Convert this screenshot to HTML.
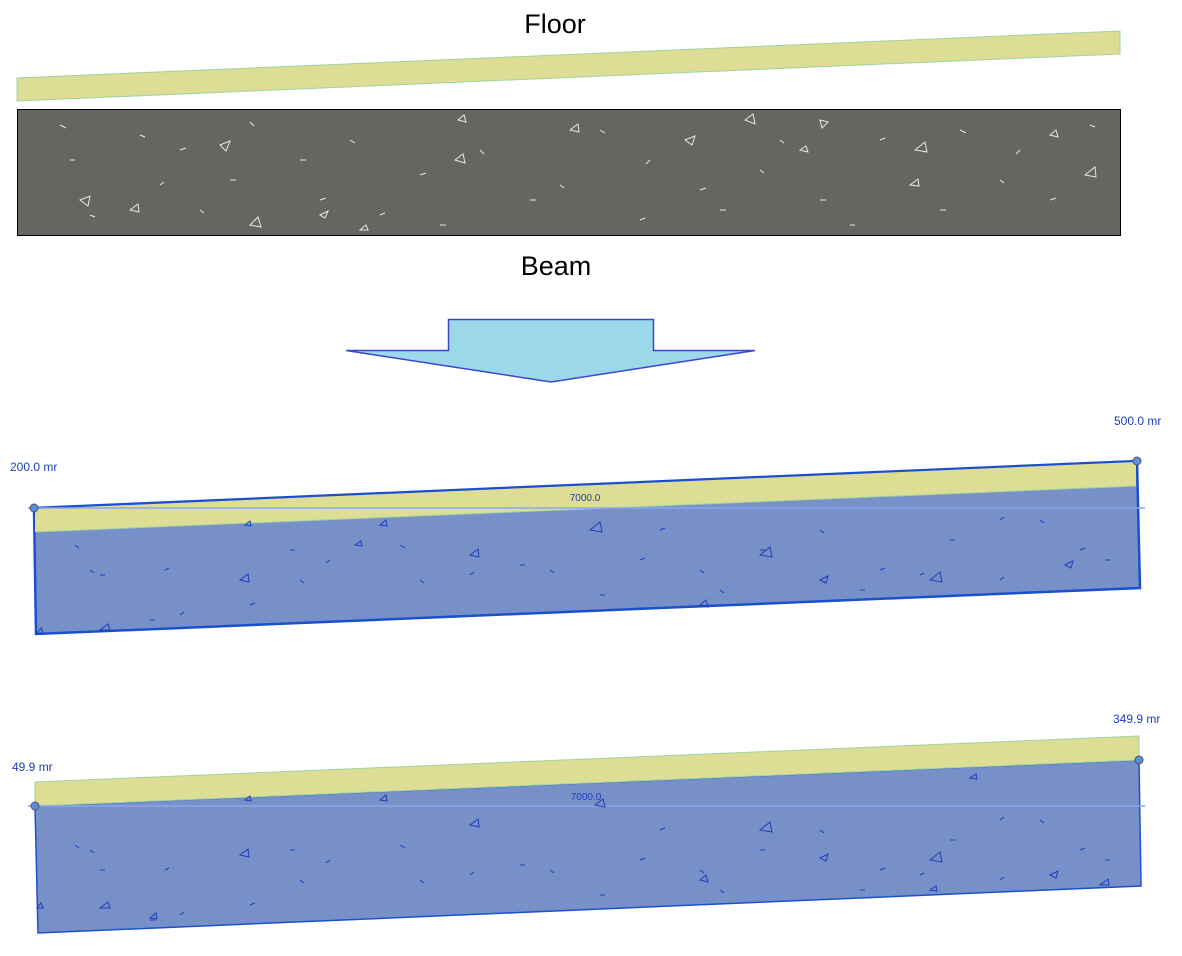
<!DOCTYPE html>
<html><head><meta charset="utf-8"><style>
html,body{margin:0;padding:0;background:#fff;}
svg{display:block;}
</style></head><body>
<svg width="1182" height="956" viewBox="0 0 1182 956" xmlns="http://www.w3.org/2000/svg" font-family="Liberation Sans, sans-serif">
<rect width="1182" height="956" fill="#fff"/>
<text x="555" y="33" font-size="27" text-anchor="middle" fill="#000">Floor</text>
<polygon points="17,78 1120,31 1120,54 17,101" fill="#dedd96" stroke="#9fd49f" stroke-width="1"/>
<rect x="17.5" y="109.5" width="1103" height="126" fill="#646660" stroke="#000" stroke-width="1"/>
<g stroke="#e8e8e8" stroke-width="1" fill="none">
<path d="M60 125l6 3M140 135l5 2M180 150l6-2M250 122l4 4M300 160l6 0M350 140l5 3M420 175l6-2M480 150l4 4M530 200l6 0M600 130l5 3M650 160l-4 4M700 190l6-2M760 170l4 3M820 200l6 0M880 140l5-2M940 210l6 0M1000 180l4 3M1050 200l6-2M90 215l5 2M160 185l4-3M230 180l6 0M380 215l5-2M440 225l6 0M560 185l4 3M640 220l5-2M720 210l6 0M780 140l4 3M850 225l5 0M960 130l6 3M1020 150l-4 4M1090 125l5 2M320 200l6-2M70 160l5 0M200 210l4 3"/>
<path d="M220 145l10-4-4 10zM455 160l8-6 2 9zM570 130l8-6 1 8zM685 140l10-4-3 9zM745 120l8-6 2 10zM820 120l8 2-6 6zM915 150l10-8 2 10zM1085 175l10-8 1 10zM80 200l10-4-2 10zM130 210l8-6 1 8zM250 225l8-8 3 10zM320 215l8-4-3 7zM458 120l6-5 2 7zM1050 135l6-5 2 7zM800 150l6-4 2 6zM910 185l8-6 1 7zM360 230l6-5 2 5z"/>
</g>
<text x="556" y="275" font-size="27" text-anchor="middle" fill="#000">Beam</text>
<polygon points="448.5,319.5 653.5,319.5 653.5,350.5 755,350.5 551,382 346,350.5 448.5,350.5" fill="#9bd9ea" stroke="#3a48c8" stroke-width="1.5"/>

<polygon points="34,508 1137,461 1140,588 36,634" fill="#7890c8" stroke="#1a50d0" stroke-width="2.5"/>
<polygon points="35,509 1136,462 1136,486 35,532" fill="#dedd96"/>
<line x1="35" y1="532" x2="1136" y2="486" stroke="#9fd49f" stroke-width="1"/>
<line x1="28" y1="508" x2="1145" y2="508" stroke="#8aa6f0" stroke-width="1.5"/>
<circle cx="34" cy="508" r="4" fill="#5b8ee0" stroke="#555" stroke-width="1"/>
<circle cx="1137" cy="461" r="4" fill="#5b8ee0" stroke="#555" stroke-width="1"/>
<text x="10" y="471" font-size="12" fill="#1a3fb8">200.0 mr</text>
<text x="1114" y="425" font-size="12" fill="#1a3fb8">500.0 mr</text>
<text x="585" y="501" font-size="10" text-anchor="middle" fill="#1a3fb8">7000.0</text>
<g stroke="#1a3fb8" stroke-width="1" fill="none">
<path d="M75 545l4 3M90 570l4 3M100 575l5 0M165 570l4-2M290 550l5 0M330 560l-4 3M400 545l5 3M470 575l4-3M520 565l5 0M550 570l4 3M640 560l5-2M700 570l4 3M760 550l5 0M820 530l4 3M880 570l5-2M920 575l4-2M950 540l5 0M1000 520l4-3M1080 550l5-2M150 620l5 0M180 615l4-3M250 605l5-2M420 580l4 3M600 595l5 0M720 590l4 3M860 590l5 0M1000 580l4-3M1040 520l4 3M1105 560l5 0M300 580l4 3M660 530l5-2"/>
<path d="M240 580l8-6 1 8zM470 555l8-6 1 8zM590 530l10-8 2 10zM760 555l10-8 2 10zM700 605l6-5 2 7zM820 580l8-4-2 7zM930 580l10-8 2 10zM1065 565l8-4-2 7zM380 525l6-5 1 6zM245 525l5-4 1 5zM100 630l8-6 2 6zM37 633l4-5 2 5zM355 545l6-4 1 5z"/>
</g>

<polygon points="35,806 1139,760 1141,886 38,933" fill="#7890c8" stroke="#1a50d0" stroke-width="1.5"/>
<polygon points="35,782 1139,736 1139,760 35,806" fill="#dedd96" stroke="#9fd49f" stroke-width="1"/>
<line x1="28" y1="806" x2="1145" y2="806" stroke="#8aa6f0" stroke-width="1.5"/>
<circle cx="35" cy="806" r="4" fill="#5b8ee0" stroke="#555" stroke-width="1"/>
<circle cx="1139" cy="760" r="4" fill="#5b8ee0" stroke="#555" stroke-width="1"/>
<text x="12" y="771" font-size="12" fill="#1a3fb8">49.9 mr</text>
<text x="1113" y="723" font-size="12" fill="#1a3fb8">349.9 mr</text>
<text x="586" y="800" font-size="10" text-anchor="middle" fill="#1a3fb8">7000.0</text>
<g stroke="#1a3fb8" stroke-width="1" fill="none">
<path d="M75 845l4 3M90 850l4 3M100 870l5 0M165 870l4-2M290 850l5 0M330 860l-4 3M400 845l5 3M470 875l4-3M520 865l5 0M550 870l4 3M640 860l5-2M700 870l4 3M760 850l5 0M820 830l4 3M880 870l5-2M920 875l4-2M950 840l5 0M1000 820l4-3M1080 850l5-2M150 920l5 0M180 915l4-3M250 905l5-2M420 880l4 3M600 895l5 0M720 890l4 3M860 890l5 0M1000 880l4-3M1040 820l4 3M1105 860l5 0M300 880l4 3M660 830l5-2"/>
<path d="M240 855l8-6 1 8zM470 825l8-6 1 8zM595 805l8-6 2 8zM760 830l10-8 2 10zM700 880l6-5 2 7zM820 858l8-4-2 7zM930 860l10-8 2 10zM1050 875l8-4-2 7zM380 800l6-5 1 6zM245 800l5-4 1 5zM100 908l8-6 2 6zM37 908l4-5 2 5zM150 918l6-5 1 6zM970 778l6-4 1 5zM1100 885l8-6 1 6zM930 890l6-4 1 5z"/>
</g>
</svg>
</body></html>
